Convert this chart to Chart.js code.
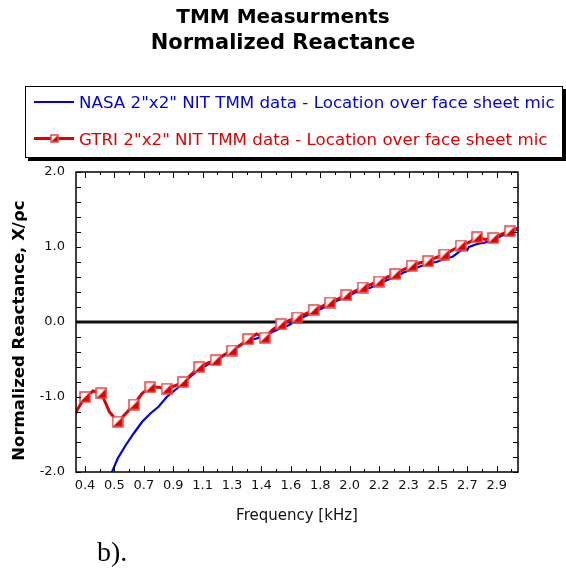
<!DOCTYPE html>
<html>
<head>
<meta charset="utf-8">
<script src="https://cdn.jsdelivr.net/npm/chart.js@4.4.1/dist/chart.umd.min.js"></script>
<style>
  body { margin: 0; background: #fff; }
  #wrap { position: relative; width: 566px; height: 569px; }
  #legend {
    position: absolute; left: 25px; top: 86px; width: 536px; height: 70px;
    border: 1.5px solid #000; box-shadow: 3px 3px 0 #000; background: #fff;
    font-family: 'DejaVu Sans'; font-size: 16.7px;
  }
  #legend .sample { position: absolute; left: 8px; width: 40px; }
  #legend .txt { position: absolute; left: 53px; white-space: nowrap; line-height: 20px; }
  #legend canvas { position: absolute; left: 24px; }
  #note { position: absolute; left: 97px; top: 534px; font-family: 'Liberation Serif'; font-size: 28px; line-height: 36px; }
</style>
</head>
<body>
<div id="wrap">
  <canvas id="c" width="566" height="569"></canvas>
  <div id="legend">
    <span class="sample" id="s0" style="top:14px"></span><span class="txt" id="t0" style="top:5px"></span>
    <span class="sample" id="s1" style="top:50px"></span><span class="txt" id="t1" style="top:42px"></span>
    <canvas id="lm" width="9" height="9" style="top:47px"></canvas>
  </div>
  <div id="note">b).</div>
</div>
<script>
// series names
var seriesNames = [
  'NASA 2"x2" NIT TMM data - Location over face sheet mic',
  'GTRI 2"x2" NIT TMM data - Location over face sheet mic'
];
var seriesColors = ['#0000e0', '#e00000'];

// NASA curve (frequency in kHz, normalized reactance)
var nasaFreq = [0.55, 0.565, 0.60, 0.65, 0.70, 0.75, 0.80, 0.85, 0.90, 0.95, 1.00, 1.05, 1.10, 1.15,
  1.20, 1.25, 1.30, 1.35, 1.40, 1.45, 1.50, 1.55, 1.60, 1.65, 1.70, 1.75, 1.80, 1.85, 1.90, 1.95,
  2.00, 2.05, 2.10, 2.15, 2.20, 2.25, 2.30, 2.35, 2.40, 2.45, 2.50, 2.55, 2.60, 2.65, 2.70, 2.72,
  2.74, 2.75, 2.80, 2.85, 2.90, 2.95, 3.00, 3.05];
var nasaReact = [-2.15, -2.00, -1.82, -1.64, -1.48, -1.33, -1.22, -1.13, -1.00, -0.91, -0.82, -0.72, -0.63, -0.57,
  -0.51, -0.45, -0.39, -0.31, -0.25, -0.22, -0.18, -0.13, -0.08, -0.04, 0.03, 0.08, 0.13, 0.18, 0.24, 0.29,
  0.33, 0.39, 0.43, 0.46, 0.51, 0.56, 0.60, 0.66, 0.70, 0.74, 0.78, 0.80, 0.84, 0.87, 0.95, 0.99,
  0.96, 1.00, 1.04, 1.06, 1.10, 1.15, 1.19, 1.24];

// GTRI curve, markers on every 0.1 kHz
var gtriFreq = [0.34, 0.35, 0.40, 0.45, 0.50, 0.55, 0.60, 0.65, 0.70, 0.75, 0.80, 0.85, 0.90, 0.95,
  1.00, 1.05, 1.10, 1.15, 1.20, 1.25, 1.30, 1.35, 1.40, 1.45, 1.50, 1.55, 1.60, 1.65, 1.70, 1.75,
  1.80, 1.85, 1.90, 1.95, 2.00, 2.05, 2.10, 2.15, 2.20, 2.25, 2.30, 2.35, 2.40, 2.45, 2.50, 2.55,
  2.60, 2.65, 2.70, 2.75, 2.80, 2.85, 2.90, 2.95, 3.00, 3.05];
var gtriReact = [-1.23, -1.18, -1.00, -0.92, -0.95, -1.20, -1.33, -1.22, -1.10, -0.95, -0.87, -0.87, -0.89, -0.85,
  -0.80, -0.70, -0.60, -0.55, -0.51, -0.44, -0.38, -0.31, -0.23, -0.16, -0.21, -0.10, -0.03, 0.02, 0.06, 0.11,
  0.16, 0.21, 0.26, 0.31, 0.36, 0.41, 0.46, 0.50, 0.54, 0.60, 0.64, 0.70, 0.75, 0.79, 0.81, 0.86,
  0.90, 0.96, 1.02, 1.06, 1.13, 1.10, 1.12, 1.17, 1.21, 1.25];

// x axis ticks
var xTickValues = [0.40, 0.58, 0.76, 0.94, 1.12, 1.30, 1.48, 1.66, 1.84, 2.02, 2.20, 2.38, 2.56, 2.74, 2.92];
var xTickLabels = ['0.4', '0.5', '0.7', '0.9', '1.1', '1.3', '1.4', '1.6', '1.8', '2.0', '2.2', '2.3', '2.5', '2.7', '2.9'];

function drawMarker(cv, s) {
  var g = cv.getContext('2d');
  g.clearRect(0, 0, cv.width, cv.height);
  g.fillStyle = '#fff';
  g.fillRect(1, 1, s, s);
  g.fillStyle = '#e00000';
  g.beginPath();
  g.moveTo(1 + s, 1);
  g.lineTo(1 + s, 1 + s);
  g.lineTo(1, 1 + s);
  g.closePath();
  g.fill();
  g.strokeStyle = '#e84848';
  g.lineWidth = 1.5;
  g.strokeRect(1, 1, s, s);
}

var marker = document.createElement('canvas');
marker.width = 12; marker.height = 12;
drawMarker(marker, 10);
drawMarker(document.getElementById('lm'), 7);

// legend
document.getElementById('s0').style.borderTop = '2px solid ' + seriesColors[0];
document.getElementById('s1').style.borderTop = '3px solid ' + seriesColors[1];
document.getElementById('t0').textContent = seriesNames[0];
document.getElementById('t0').style.color = seriesColors[0];
document.getElementById('t1').textContent = seriesNames[1];
document.getElementById('t1').style.color = seriesColors[1];

function isMarker(f) {
  return f >= 0.395 && Math.abs(f * 10 - Math.round(f * 10)) < 1e-6;
}

// frame, inward ticks and the zero line
var framePlugin = {
  id: 'frame',
  beforeDatasetsDraw: function (chart) {
    var a = chart.chartArea, y = chart.scales.y;
    var ctx = chart.ctx;
    var y0 = y.getPixelForValue(0);
    ctx.save();
    ctx.strokeStyle = '#111';
    ctx.lineWidth = 3;
    ctx.beginPath();
    ctx.moveTo(a.left, y0);
    ctx.lineTo(a.right, y0);
    ctx.stroke();
    ctx.restore();
  },
  afterDatasetsDraw: function (chart) {
    var a = chart.chartArea, x = chart.scales.x, y = chart.scales.y;
    var ctx = chart.ctx;
    ctx.save();
    ctx.strokeStyle = '#000';
    ctx.lineWidth = 1;
    ctx.beginPath();
    var i, px, py;
    var xs = [];
    for (i = 0; i < xTickValues.length; i++) {
      xs.push([xTickValues[i], 6]);
      var next = i + 1 < xTickValues.length ? xTickValues[i + 1] : xTickValues[i] + (xTickValues[i] - xTickValues[i - 1]);
      var mid = (xTickValues[i] + next) / 2;
      if (mid < x.max) xs.push([mid, 3]);
    }
    xs.forEach(function (t) {
      px = Math.round(x.getPixelForValue(t[0])) + 0.5;
      ctx.moveTo(px, a.bottom); ctx.lineTo(px, a.bottom - t[1]);
      ctx.moveTo(px, a.top); ctx.lineTo(px, a.top + t[1]);
    });
    y.ticks.forEach(function (t) {
      py = Math.round(y.getPixelForValue(t.value)) + 0.5;
      ctx.moveTo(a.left, py); ctx.lineTo(a.left + 5, py);
      ctx.moveTo(a.right, py); ctx.lineTo(a.right - 5, py);
    });
    ctx.stroke();
    ctx.lineWidth = 1.5;
    ctx.strokeRect(a.left, a.top, a.right - a.left, a.bottom - a.top);
    ctx.restore();
  }
};

var ctx = document.getElementById('c').getContext('2d');
var chart = new Chart(ctx, {
  type: 'line',
  data: {
    datasets: [{
      label: seriesNames[1],
      data: gtriFreq.map(function (f, i) { return { x: f, y: gtriReact[i] }; }),
      borderColor: seriesColors[1],
      borderWidth: 3,
      pointStyle: marker,
      pointRadius: function (c) { return c.raw && isMarker(c.raw.x) ? 5 : 0; },
      pointHoverRadius: 0,
      order: 0
    }, {
      label: seriesNames[0],
      data: nasaFreq.map(function (f, i) { return { x: f, y: nasaReact[i] }; }),
      borderColor: seriesColors[0],
      borderWidth: 2.2,
      pointRadius: 0,
      order: 1
    }]
  },
  options: {
    responsive: false,
    animation: false,
    layout: { padding: 0 },
    plugins: {
      legend: { display: false },
      tooltip: { enabled: false },
      title: {
        display: true,
        text: 'TMM Measurments',
        color: '#000',
        font: { family: 'DejaVu Sans', size: 20, weight: 'bold', lineHeight: 26 / 20 },
        padding: { top: 5, bottom: 0 }
      },
      subtitle: {
        display: true,
        text: 'Normalized Reactance',
        color: '#000',
        font: { family: 'DejaVu Sans', size: 21, weight: 'bold', lineHeight: 26 / 21 },
        padding: { top: 0, bottom: 115 }
      }
    },
    scales: {
      x: {
        type: 'linear',
        min: 0.345,
        max: 3.05,
        grid: { display: false, drawTicks: false },
        border: { display: false },
        afterBuildTicks: function (s) { s.ticks = xTickValues.map(function (v) { return { value: v }; }); },
        afterFit: function (s) { s.height = 97; },
        ticks: {
          autoSkip: false, maxRotation: 0, padding: 6, color: '#111',
          font: { family: 'DejaVu Sans', size: 13 },
          callback: function (v, i) { return xTickLabels[i]; }
        },
        title: {
          display: true, text: 'Frequency [kHz]', color: '#111',
          font: { family: 'DejaVu Sans', size: 15 },
          padding: { top: 0, bottom: 44 }
        }
      },
      y: {
        min: -2,
        max: 2,
        grid: { display: false, drawTicks: false },
        border: { display: false },
        afterFit: function (s) { s.width = 76; },
        ticks: {
          stepSize: 0.2, autoSkip: false, padding: 11, color: '#111',
          font: { family: 'DejaVu Sans', size: 13 },
          callback: function (v) {
            return Math.abs(v - Math.round(v)) < 1e-6 ? Math.round(v).toFixed(1) : '';
          }
        },
        title: {
          display: true, text: 'Normalized Reactance, X/\u03c1c   ', color: '#000',
          font: { family: 'DejaVu Sans', size: 16.5, weight: 'bold' },
          padding: { top: 10, bottom: 0 }
        }
      },
      // empty right-hand strip so the plot ends short of the canvas edge
      yRight: {
        position: 'right',
        grid: { display: false, drawTicks: false },
        border: { display: false },
        ticks: { display: false },
        afterFit: function (s) { s.width = 48; }
      }
    }
  },
  plugins: [framePlugin]
});
</script>
</body>
</html>
